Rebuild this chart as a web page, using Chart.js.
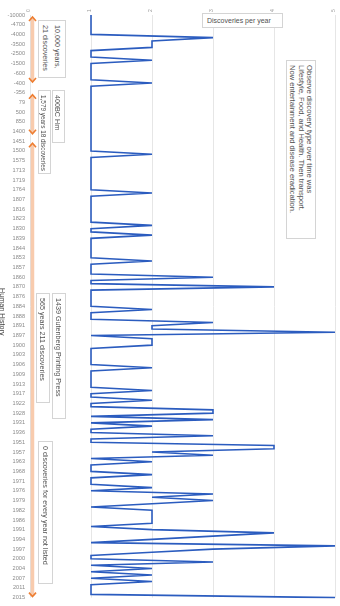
<!DOCTYPE html>
<html>
<head>
<meta charset="utf-8">
<script src="https://cdn.jsdelivr.net/npm/chart.js@4.4.1/dist/chart.umd.min.js"></script>
<style>
  body { margin: 0; background: #fff; }
  #wrap { position: relative; width: 340px; height: 606px; overflow: hidden; }
  .box {
    position: absolute; box-sizing: border-box; background: #fff;
    border: 1px solid #d4d4d4; color: #505050;
    font: 7.2px "Liberation Sans", Arial, sans-serif; line-height: 9px;
    white-space: nowrap; overflow: hidden;
  }
  .v { writing-mode: vertical-rl; padding: 4px 2px; }
  .h { padding: 2px 4px; font-size: 7px; }
  .plain { border: none; background: transparent; }
</style>
</head>
<body>
<div id="wrap">
  <canvas id="chart" width="340" height="606"></canvas>
  <div class="box h" style="left:202px;top:13px;width:81px;height:15px">Discoveries per year</div>
  <div class="box v" style="left:38px;top:20px;width:28px;height:58px;line-height:12px">10,000 years,<br>21 discoveries</div>
  <div class="box v" style="left:38px;top:90px;width:13px;height:84px;font-size:6.4px">1,579 years 18 discoveries</div>
  <div class="box v" style="left:52px;top:90px;width:13px;height:53px">400BC Hm</div>
  <div class="box v plain" style="left:-1px;top:284px;width:10px;height:70px;font-size:7.2px;color:#404040">Human History</div>
  <div class="box v" style="left:36px;top:293px;width:14px;height:110px">565 years 211 discoveries</div>
  <div class="box v" style="left:52px;top:293px;width:14px;height:126px">1439 Gutenberg Printing Press</div>
  <div class="box v" style="left:38px;top:441px;width:15px;height:143px">0 discoveries for every year not listed</div>
  <div class="box v" style="left:286px;top:60px;width:30px;height:179px;font-size:7.6px;line-height:8.4px">Observe discovery type over time was<br>Lifestyle, Food, and Health. Then transport.<br>Now entertainment and disease eradication.</div>
</div>
<script>
// years that had at least one discovery (0 for every year not listed)
const years = [
  -10000, -9000, -7000, -4700, -4500, -4200, -4000, -3800, -3600, -3500,
  -3200, -3000, -2500, -2000, -1700, -1500, -1200, -1000, -600, -550,
  -500, -400, -387, -370, -356, -250, -100, 79, 105, 300,
  500, 600, 700, 850, 1000, 1270, 1400, 1420, 1440, 1451,
  1470, 1490, 1500, 1540, 1560, 1575, 1590, 1608, 1713, 1714,
  1716, 1719, 1733, 1752, 1764, 1769, 1783, 1807, 1810, 1814,
  1816, 1819, 1821, 1823, 1826, 1827, 1830, 1831, 1837, 1839,
  1842, 1843, 1844, 1846, 1849, 1853, 1855, 1856, 1857, 1858,
  1859, 1860, 1862, 1867, 1870, 1872, 1874, 1876, 1877, 1879,
  1884, 1885, 1886, 1888, 1889, 1890, 1891, 1893, 1895, 1897,
  1898, 1899, 1900, 1901, 1902, 1903, 1904, 1905, 1906, 1907,
  1908, 1909, 1910, 1911, 1913, 1914, 1915, 1917, 1919, 1920,
  1922, 1925, 1926, 1928, 1929, 1930, 1931, 1933, 1935, 1936,
  1938, 1945, 1951, 1953, 1955, 1957, 1959, 1961, 1963, 1965,
  1967, 1968, 1969, 1970, 1971, 1973, 1974, 1976, 1977, 1978,
  1979, 1980, 1981, 1982, 1983, 1984, 1986, 1988, 1989, 1991,
  1992, 1993, 1994, 1995, 1996, 1997, 1998, 1999, 2000, 2001,
  2003, 2004, 2005, 2006, 2007, 2008, 2010, 2011, 2013, 2014,
  2015
]

const discoveries = [
  1, 1, 1, 1, 1, 1, 1, 3, 2, 2,
  2, 1, 1, 1, 2, 1, 1, 1, 1, 1,
  1, 2, 1, 1, 1, 1, 1, 1, 1, 1,
  1, 1, 1, 1, 1, 1, 1, 1, 1, 1,
  1, 1, 1, 2, 1, 1, 1, 1, 1, 1,
  1, 1, 1, 1, 1, 2, 1, 1, 1, 1,
  1, 1, 1, 1, 1, 2, 1, 1, 2, 1,
  1, 1, 1, 1, 1, 1, 2, 1, 1, 1,
  1, 3, 1, 1, 4, 1, 1, 1, 1, 1,
  1, 2, 1, 1, 1, 3, 2, 2, 5, 1,
  2, 2, 2, 1, 1, 1, 1, 1, 1, 2,
  1, 1, 1, 1, 1, 1, 2, 1, 1, 2,
  1, 1, 3, 3, 1, 3, 1, 2, 1, 1,
  3, 1, 1, 4, 4, 2, 3, 1, 2, 1,
  1, 1, 2, 1, 1, 1, 2, 1, 3, 2,
  3, 2, 1, 2, 2, 2, 2, 2, 1, 2,
  4, 3, 2, 1, 5, 3, 2, 1, 1, 3,
  1, 2, 1, 2, 1, 2, 1, 1, 1, 1,
  5
]

// eras marked with double arrows, as first and last category index
const eraStart = [0, 24, 39]
const eraEnd = [21, 37, 180]

const labelStep = 3

const eraArrows = {
    id: 'eraArrows',
    afterDraw(chart) {
        const ctx = chart.ctx
        const xs = chart.scales.x
        const ys = chart.scales.y
        const x = xs.getPixelForValue(0) + 2.5
        ctx.save()
        eraStart.forEach((s, i) => {
            const y1 = ys.getPixelForValue(s) + 2
            const y2 = ys.getPixelForValue(eraEnd[i]) - 1
            ctx.strokeStyle = 'rgba(237,125,49,0.4)'
            ctx.lineWidth = 3.5
            ctx.beginPath()
            ctx.moveTo(x, y1 + 1)
            ctx.lineTo(x, y2 - 1)
            ctx.stroke()
            ctx.strokeStyle = '#ed7d31'
            ctx.lineWidth = 1.6
            ctx.beginPath()
            ctx.moveTo(x - 3.5, y1 + 4)
            ctx.lineTo(x, y1)
            ctx.lineTo(x + 3.5, y1 + 4)
            ctx.moveTo(x - 3.5, y2 - 4)
            ctx.lineTo(x, y2)
            ctx.lineTo(x + 3.5, y2 - 4)
            ctx.stroke()
        })
        ctx.restore()
    }
}

new Chart(document.getElementById('chart'), {
    type: 'line',
    data: {
        labels: years.map(String),
        datasets: [{
            data: discoveries,
            borderColor: '#2b5cbf',
            borderWidth: 1.6,
            pointRadius: 0,
            tension: 0,
            fill: false
        }]
    },
    options: {
        indexAxis: 'y',
        responsive: false,
        animation: false,
        devicePixelRatio: 1,
        layout: {padding: {top: 0, right: 5, bottom: 6, left: 0}},
        plugins: {legend: {display: false}, tooltip: {enabled: false}},
        scales: {
            x: {
                position: 'top',
                min: 0,
                max: 5,
                ticks: {stepSize: 1, color: '#999', font: {size: 5}, padding: 3, minRotation: 90, maxRotation: 90, labelOffset: 5},
                grid: {color: '#e6e6e6', drawTicks: false},
                border: {display: false},
                afterFit: (s) => { s.height = 15 }
            },
            y: {
                ticks: {
                    autoSkip: false,
                    color: '#8a8a8a',
                    font: {size: 5.6, family: 'Liberation Sans'},
                    padding: 5,
                    callback: (v, i) => i % labelStep === 0 ? years[i] : ''
                },
                grid: {display: false, drawTicks: false},
                border: {display: false},
                afterFit: (s) => { s.width = 30 }
            }
        }
    },
    plugins: [eraArrows]
})
</script>
</body>
</html>
